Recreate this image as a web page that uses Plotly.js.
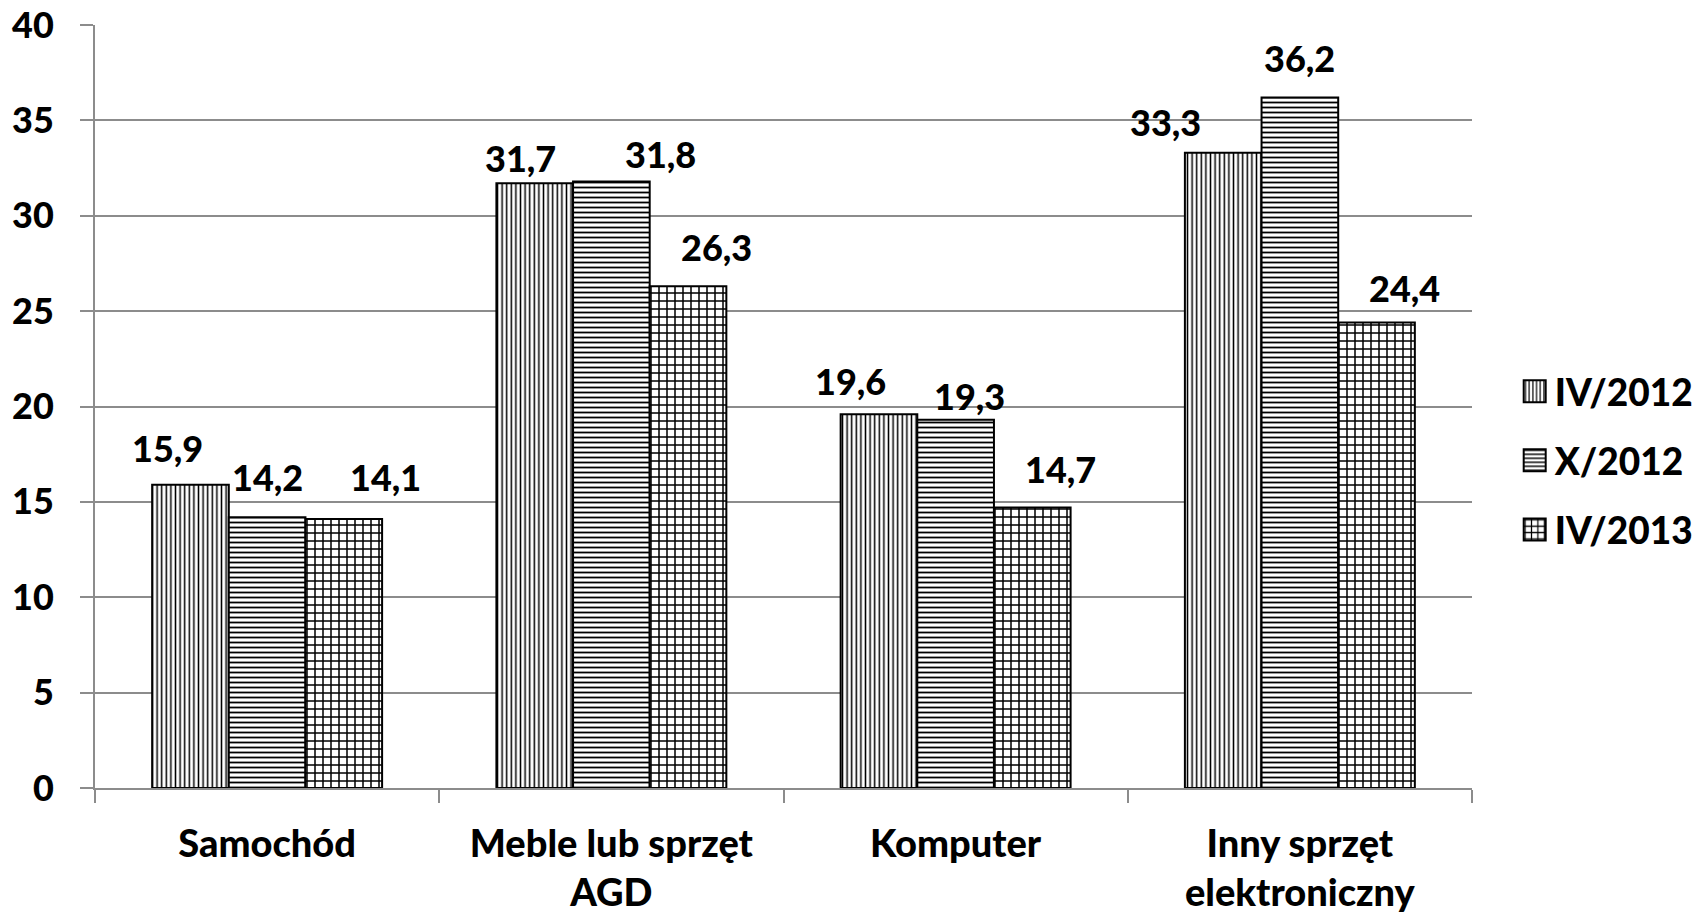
<!DOCTYPE html>
<html>
<head>
<meta charset="utf-8">
<script src="https://cdn.plot.ly/plotly-3.0.1.min.js"></script>
<style>
  html, body { margin: 0; padding: 0; background: #fff; }
  #chart { width: 1700px; height: 914px; }
</style>
</head>
<body>
<div id="chart"></div>
<script>
// ---- data ----
const categories = ['Samochód', 'Meble lub sprzęt<br>AGD', 'Komputer', 'Inny sprzęt<br>elektroniczny'];
const seriesNames = ['IV/2012', 'X/2012', 'IV/2013'];
const valuesIV2012 = [15.9, 31.7, 19.6, 33.3];
const valuesX2012 = [14.2, 31.8, 19.3, 36.2];
const valuesIV2013 = [14.1, 26.3, 14.7, 24.4];
const yTickValues = [0, 5, 10, 15, 20, 25, 30, 35, 40];

// ---- styling (positions / looks, not data) ----
const FONT = 'Lato, "Open Sans", "DejaVu Sans", sans-serif';
const FS = 36;
const WEIGHT = 900;
const GRID = '#8c8c8c';
const margin = {l: 95, r: 228, t: 25, b: 126};
const bargap = 0.332;
const patterns = [
  {shape: '|', size: 4.6, solidity: 0.33},
  {shape: '-', size: 5, solidity: 0.36},
  {shape: '+', size: 8, solidity: 0.34}
];
// label nudges (px) relative to bar centre / bar top, as placed in the original
const labelDx = [[-23, -14, -28, -58], [0, 49, 14, 0], [42, 28, 28, 28]];
const labelDy = [[22, 10, 18, 16], [25, 12, 9, 24], [27, 24, 24, 20]];

const seriesValues = [valuesIV2012, valuesX2012, valuesIV2013];

const traces = seriesValues.map((vals, i) => ({
  type: 'bar',
  name: seriesNames[i],
  x: categories,
  y: vals,
  legendgroup: 'g' + i,
  marker: {
    color: 'white',
    line: {color: 'black', width: 2},
    pattern: Object.assign({fgcolor: 'black', bgcolor: 'white', fillmode: 'replace'}, patterns[i])
  },
  hoverinfo: 'x+y'
}));

const plotW = 1700 - margin.l - margin.r;
const catW = plotW / categories.length;
const barW = catW * (1 - bargap) / seriesValues.length;

const annotations = [];
seriesValues.forEach((vals, i) => {
  vals.forEach((v, j) => {
    annotations.push({
      xref: 'x', yref: 'y',
      x: categories[j], y: v,
      text: String(v).replace('.', ','),
      showarrow: false,
      xanchor: 'center', yanchor: 'bottom',
      xshift: (i - 1) * barW + labelDx[i][j],
      yshift: labelDy[i][j] - 9,
      font: {family: FONT, size: FS, color: '#000', weight: WEIGHT}
    });
  });
});

const layout = {
  width: 1700, height: 914,
  margin: margin,
  paper_bgcolor: 'white', plot_bgcolor: 'white',
  barmode: 'group',
  bargap: bargap,
  bargroupgap: 0,
  font: {family: FONT, size: FS, color: '#000', weight: WEIGHT},
  separators: ', ',
  showlegend: true,
  legend: {
    xref: 'container', yref: 'container',
    x: 0.891, xanchor: 'left',
    y: 0.496, yanchor: 'middle',
    font: {family: FONT, size: 37, color: '#000', weight: WEIGHT},
    tracegroupgap: 18,
    traceorder: 'grouped',
    bgcolor: 'rgba(0,0,0,0)'
  },
  xaxis: {
    type: 'category',
    tickson: 'boundaries',
    ticks: 'outside', ticklen: 13, tickwidth: 2, tickcolor: GRID,
    showline: true, linecolor: GRID, linewidth: 2,
    showgrid: false, zeroline: false,
    tickfont: {family: FONT, size: 38, color: '#000', weight: WEIGHT},
    ticklabelstandoff: 21,
    fixedrange: true
  },
  yaxis: {
    range: [0, 40],
    tickvals: yTickValues,
    ticktext: yTickValues.map(String),
    ticks: 'outside', ticklen: 13, tickwidth: 2, tickcolor: GRID,
    showline: true, linecolor: GRID, linewidth: 2,
    showgrid: true, gridcolor: GRID, gridwidth: 2,
    zeroline: false,
    tickfont: {family: FONT, size: FS, color: '#000', weight: WEIGHT},
    ticklabelstandoff: 19,
    fixedrange: true
  },
  annotations: annotations
};

Plotly.newPlot('chart', traces, layout, {displayModeBar: false, staticPlot: true}).then(() => {
  document.querySelectorAll('.legend .legendpoints path').forEach(p => {
    p.setAttribute('d', 'M11,11H-11V-11H11Z');
  });
});
</script>
</body>
</html>
